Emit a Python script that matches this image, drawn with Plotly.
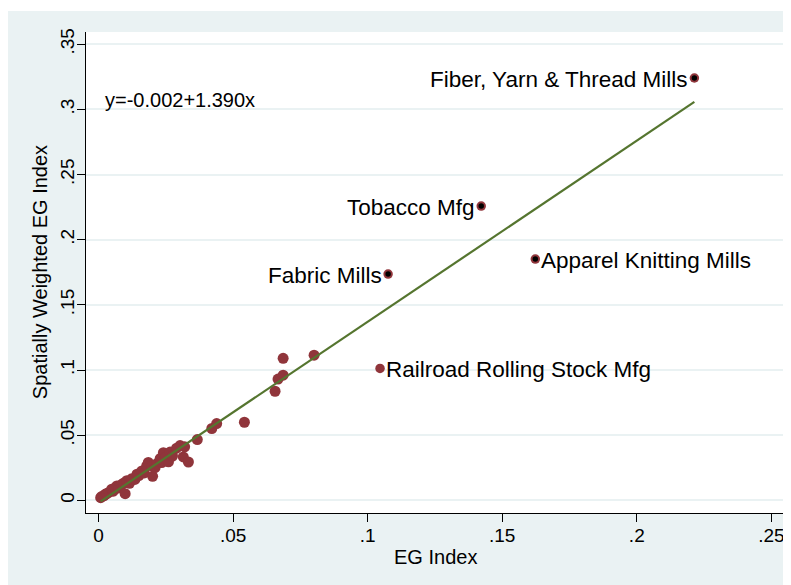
import plotly.graph_objects as go

# ---- data ----
eg_index = [0.0008, 0.0012, 0.0020, 0.0026, 0.0030, 0.0040, 0.0049, 0.0055, 0.0062, 0.0068,
            0.0075, 0.0085, 0.0092, 0.0099, 0.0105, 0.0115, 0.0123, 0.0135, 0.0143, 0.0150,
            0.0161, 0.0170, 0.0179, 0.0185, 0.0198, 0.0201, 0.0210, 0.0216, 0.0229, 0.0235,
            0.0241, 0.0250, 0.0260, 0.0266, 0.0275, 0.0290, 0.0303, 0.0315, 0.0320, 0.0334,
            0.0367, 0.0421, 0.0439, 0.0542, 0.0656, 0.0667, 0.0686, 0.0686, 0.0801]
sw_eg_index = [0.0020, 0.0030, 0.0035, 0.0048, 0.0050, 0.0062, 0.0085, 0.0070, 0.0095, 0.0110,
               0.0095, 0.0120, 0.0130, 0.0051, 0.0150, 0.0130, 0.0165, 0.0160, 0.0200, 0.0190,
               0.0225, 0.0210, 0.0265, 0.0290, 0.0265, 0.0184, 0.0250, 0.0280, 0.0320, 0.0290,
               0.0365, 0.0330, 0.0295, 0.0370, 0.0340, 0.0400, 0.0420, 0.0333, 0.0410, 0.0294,
               0.0466, 0.0551, 0.0589, 0.0599, 0.0837, 0.0930, 0.0960, 0.1090, 0.1114]

label_names = ["Fiber, Yarn & Thread Mills", "Tobacco Mfg", "Fabric Mills",
               "Apparel Knitting Mills", "Railroad Rolling Stock Mfg"]
label_x = [0.2214, 0.1422, 0.1076, 0.1623, 0.1046]
label_y = [0.3241, 0.2258, 0.1736, 0.1851, 0.1012]
label_side = ["left", "left", "left", "right", "right"]
label_dark = [True, True, True, True, False]

intercept = -0.002
slope = 1.390
equation_text = "y=-0.002+1.390x"

x_ticks = [0, 0.05, 0.1, 0.15, 0.2, 0.25]
x_ticktext = ["0", ".05", ".1", ".15", ".2", ".25"]
y_ticks = [0, 0.05, 0.1, 0.15, 0.2, 0.25, 0.3, 0.35]
y_ticktext = ["0", ".05", ".1", ".15", ".2", ".25", ".3", ".35"]

x_title = "EG Index"
y_title = "Spatially Weighted EG Index"

# ---- styles ----
BG = "#eaf2f3"
MAROON = "#90353b"
GREEN = "#55752f"
FONT = "Arial, Liberation Sans, sans-serif"

all_x = eg_index + label_x
line_x = [min(all_x), max(all_x)]
line_y = [intercept + slope * v for v in line_x]

fig = go.Figure()
fig.add_trace(go.Scatter(x=eg_index, y=sw_eg_index, mode="markers",
                         marker=dict(color=MAROON, size=11, line=dict(width=0)),
                         showlegend=False, hoverinfo="skip"))
fig.add_trace(go.Scatter(x=label_x, y=label_y, mode="markers",
                         marker=dict(color=MAROON, size=9.5, line=dict(width=0)),
                         showlegend=False, hoverinfo="skip"))
dx = [x for x, d in zip(label_x, label_dark) if d]
dy = [y for y, d in zip(label_y, label_dark) if d]
fig.add_trace(go.Scatter(x=dx, y=dy, mode="markers",
                         marker=dict(color="black", size=5.5, line=dict(width=0)),
                         showlegend=False, hoverinfo="skip"))
fig.add_trace(go.Scatter(x=line_x, y=line_y, mode="lines",
                         line=dict(color=GREEN, width=2.2),
                         showlegend=False, hoverinfo="skip"))

for name, x, y, side in zip(label_names, label_x, label_y, label_side):
    fig.add_annotation(x=x, y=y, text=name, showarrow=False,
                       xanchor="right" if side == "left" else "left",
                       xshift=-4 if side == "left" else 4, yanchor="middle", yshift=-1,
                       font=dict(family=FONT, size=22.5, color="black"))

fig.add_annotation(x=0.0016, y=0.307, text=equation_text, showarrow=False,
                   xanchor="left", yanchor="middle",
                   font=dict(family=FONT, size=20, color="black"))

# figure is placed 8px right/down by the page margin
W, H = 791, 585
ml, mr, mt, mb = 78, 15.3, 24, 80.3
pw, ph = W - ml - mr, H - mt - mb


def px2paper_x(px):
    return (px - ml) / pw


def px2paper_y(py):
    return (H - mb - py) / ph


# axis titles placed as annotations
fig.add_annotation(xref="paper", yref="paper", x=px2paper_x(32), y=px2paper_y(264),
                   text=y_title, textangle=-90, showarrow=False,
                   xanchor="center", yanchor="middle",
                   font=dict(family=FONT, size=20, color="black"))
fig.add_annotation(xref="paper", yref="paper", x=px2paper_x(427), y=px2paper_y(549),
                   text=x_title, showarrow=False,
                   xanchor="center", yanchor="middle",
                   font=dict(family=FONT, size=20, color="black"))

# thin white strip at the very top
fig.add_shape(type="rect", xref="paper", yref="paper",
              x0=px2paper_x(-5), x1=px2paper_x(W + 5), y0=px2paper_y(3), y1=px2paper_y(-5),
              fillcolor="white", line=dict(width=0), layer="below")

fig.update_layout(
    width=W, height=H,
    margin=dict(l=ml, r=mr, t=mt, b=mb, pad=0, autoexpand=False),
    paper_bgcolor=BG, plot_bgcolor="white",
    font=dict(family=FONT, size=19, color="black"),
    xaxis=dict(range=[-0.00465, 0.2547], tickvals=x_ticks, ticktext=x_ticktext,
               showgrid=False, zeroline=False, showline=True, linecolor="black", linewidth=1,
               ticks="outside", ticklen=8, tickcolor="black", tickwidth=1,
               tickfont=dict(size=19), ticklabelstandoff=-3, automargin=False),
    yaxis=dict(range=[-0.00975, 0.3594], tickvals=y_ticks, ticktext=y_ticktext,
               showgrid=True, gridcolor=BG, gridwidth=2, zeroline=False,
               showline=True, linecolor="black", linewidth=1,
               ticks="outside", ticklen=8, tickcolor="black", tickwidth=1,
               tickangle=-90, tickfont=dict(size=19), ticklabelstandoff=-5, automargin=False),
)

fig.write_html("out.html")
